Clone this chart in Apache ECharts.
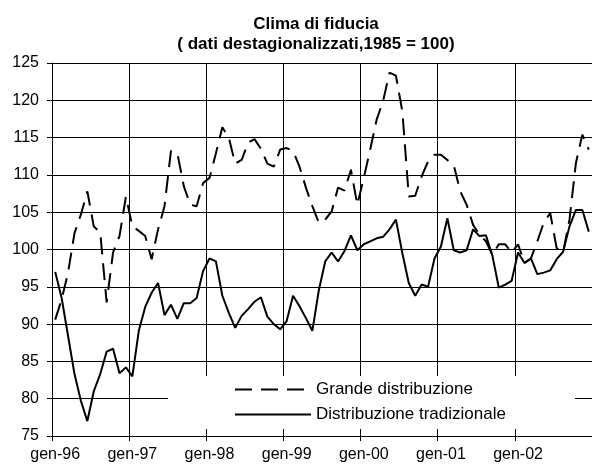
<!DOCTYPE html>
<html>
<head>
<meta charset="utf-8">
<title>Clima di fiducia</title>
<script src="https://cdn.jsdelivr.net/npm/echarts@6/dist/echarts.min.js"></script>
<style>
  html, body { margin: 0; padding: 0; background: #fff; }
  #chart { width: 592px; height: 468px; }
</style>
</head>
<body>
<div id="chart"></div>
<script>
// mesi e anni dell'asse x (gen-96 ... dic-02)
const months = ['gen', 'feb', 'mar', 'apr', 'mag', 'giu', 'lug', 'ago', 'set', 'ott', 'nov', 'dic'];
const years = ['96', '97', '98', '99', '00', '01', '02'];

const yTicks = { min: 75, max: 125, step: 5 };

// Grande distribuzione (linea tratteggiata)
const grande = [
    90.6, 93.3, 96.9, 102.2, 104.7, 107.8, 103.1, 102.3, 92.9, 99.6, 101.8, 107.1,
    103.1, 102.5, 101.8, 98.7, 102.7, 105.8, 113.2, 112.9, 108.5, 106.0, 105.8, 108.9,
    109.6, 112.9, 116.4, 115.0, 111.5, 112.0, 114.3, 114.8, 113.5, 111.5, 111.1, 113.4,
    113.6, 113.2, 111.1, 108.3, 105.8, 103.6, 104.0, 105.1, 108.3, 107.9, 110.7, 106.0,
    109.6, 113.4, 117.4, 119.9, 123.7, 123.3, 118.5, 107.1, 107.2, 109.8, 111.8, 112.7,
    112.7, 112.0, 111.3, 107.8, 106.0, 103.3, 102.0, 101.1, 99.3, 100.7, 100.7, 99.6,
    100.7, 98.2, 98.8, 101.1, 103.6, 104.9, 100.2, 99.6, 104.0, 111.6, 115.4, 113.4
];

// Distribuzione tradizionale (linea continua)
const tradizionale = [
    97.0, 93.5, 88.4, 83.3, 79.7, 77.0, 81.0, 83.3, 86.3, 86.7, 83.4, 84.2,
    83.0, 89.1, 92.3, 94.2, 95.5, 91.2, 92.6, 90.7, 92.8, 92.8, 93.5, 97.1,
    98.8, 98.4, 93.8, 91.5, 89.5, 91.1, 92.0, 93.0, 93.6, 91.0, 90.0, 89.3,
    90.4, 93.8, 92.4, 90.8, 89.1, 94.5, 98.4, 99.6, 98.4, 99.8, 101.9, 99.9,
    100.7, 101.1, 101.5, 101.7, 102.7, 104.0, 99.5, 95.5, 93.8, 95.3, 95.0, 98.8,
    100.4, 104.2, 99.9, 99.6, 99.9, 102.7, 101.8, 101.9, 99.2, 94.9, 95.3, 95.8,
    99.6, 98.2, 98.8, 96.7, 96.9, 97.2, 98.7, 99.7, 103.1, 105.3, 105.3, 102.4
];

const categories = [];
years.forEach(function (y) {
    months.forEach(function (m) {
        categories.push(m + '-' + y);
    });
});

const FONT = '"Liberation Sans", Arial, sans-serif';

const chart = echarts.init(document.getElementById('chart'));

const option = {
    animation: false,
    backgroundColor: '#fff',
    title: {
        text: 'Clima di fiducia\n( dati destagionalizzati,1985 = 100)',
        left: 311,
        textAlign: 'center',
        top: 9,
        textStyle: {
            fontFamily: FONT,
            fontSize: 17,
            fontWeight: 'bold',
            color: '#000',
            lineHeight: 20
        }
    },
    legend: {
        orient: 'vertical',
        left: 168,
        top: 376,
        backgroundColor: '#fff',
        padding: [5, 69, 6, 66],
        itemWidth: 76,
        itemHeight: 14,
        itemGap: 8,
        itemStyle: { opacity: 0 },
        textStyle: { fontFamily: FONT, fontSize: 17, color: '#000' },
        data: ['Grande distribuzione', 'Distribuzione tradizionale']
    },
    grid: {
        left: 52,
        right: -1,
        top: 63,
        bottom: 32
    },
    xAxis: {
        type: 'category',
        data: categories,
        boundaryGap: true,
        axisLine: { lineStyle: { color: '#000', width: 1 } },
        axisTick: { show: true, interval: 11, length: 5, lineStyle: { color: '#000' } },
        axisLabel: {
            interval: 11,
            margin: 11,
            fontFamily: FONT,
            fontSize: 16,
            color: '#000'
        },
        splitLine: { show: true, interval: 11, lineStyle: { color: '#000', width: 1 } }
    },
    yAxis: {
        type: 'value',
        min: yTicks.min,
        max: yTicks.max,
        interval: yTicks.step,
        axisLine: { show: true, lineStyle: { color: '#000', width: 1 } },
        axisTick: { show: true, length: 5, lineStyle: { color: '#000' } },
        axisLabel: {
            margin: 13,
            fontFamily: FONT,
            fontSize: 16,
            color: '#000'
        },
        splitLine: { show: true, lineStyle: { color: '#000', width: 1 } }
    },
    series: [
        {
            name: 'Grande distribuzione',
            type: 'line',
            data: grande,
            symbol: 'none',
            lineStyle: { color: '#000', width: 2, type: [17, 9] },
            itemStyle: { color: '#000' }
        },
        {
            name: 'Distribuzione tradizionale',
            type: 'line',
            data: tradizionale,
            symbol: 'none',
            lineStyle: { color: '#000', width: 2, type: 'solid' },
            itemStyle: { color: '#000' }
        }
    ]
};

chart.setOption(option);
</script>
</body>
</html>
